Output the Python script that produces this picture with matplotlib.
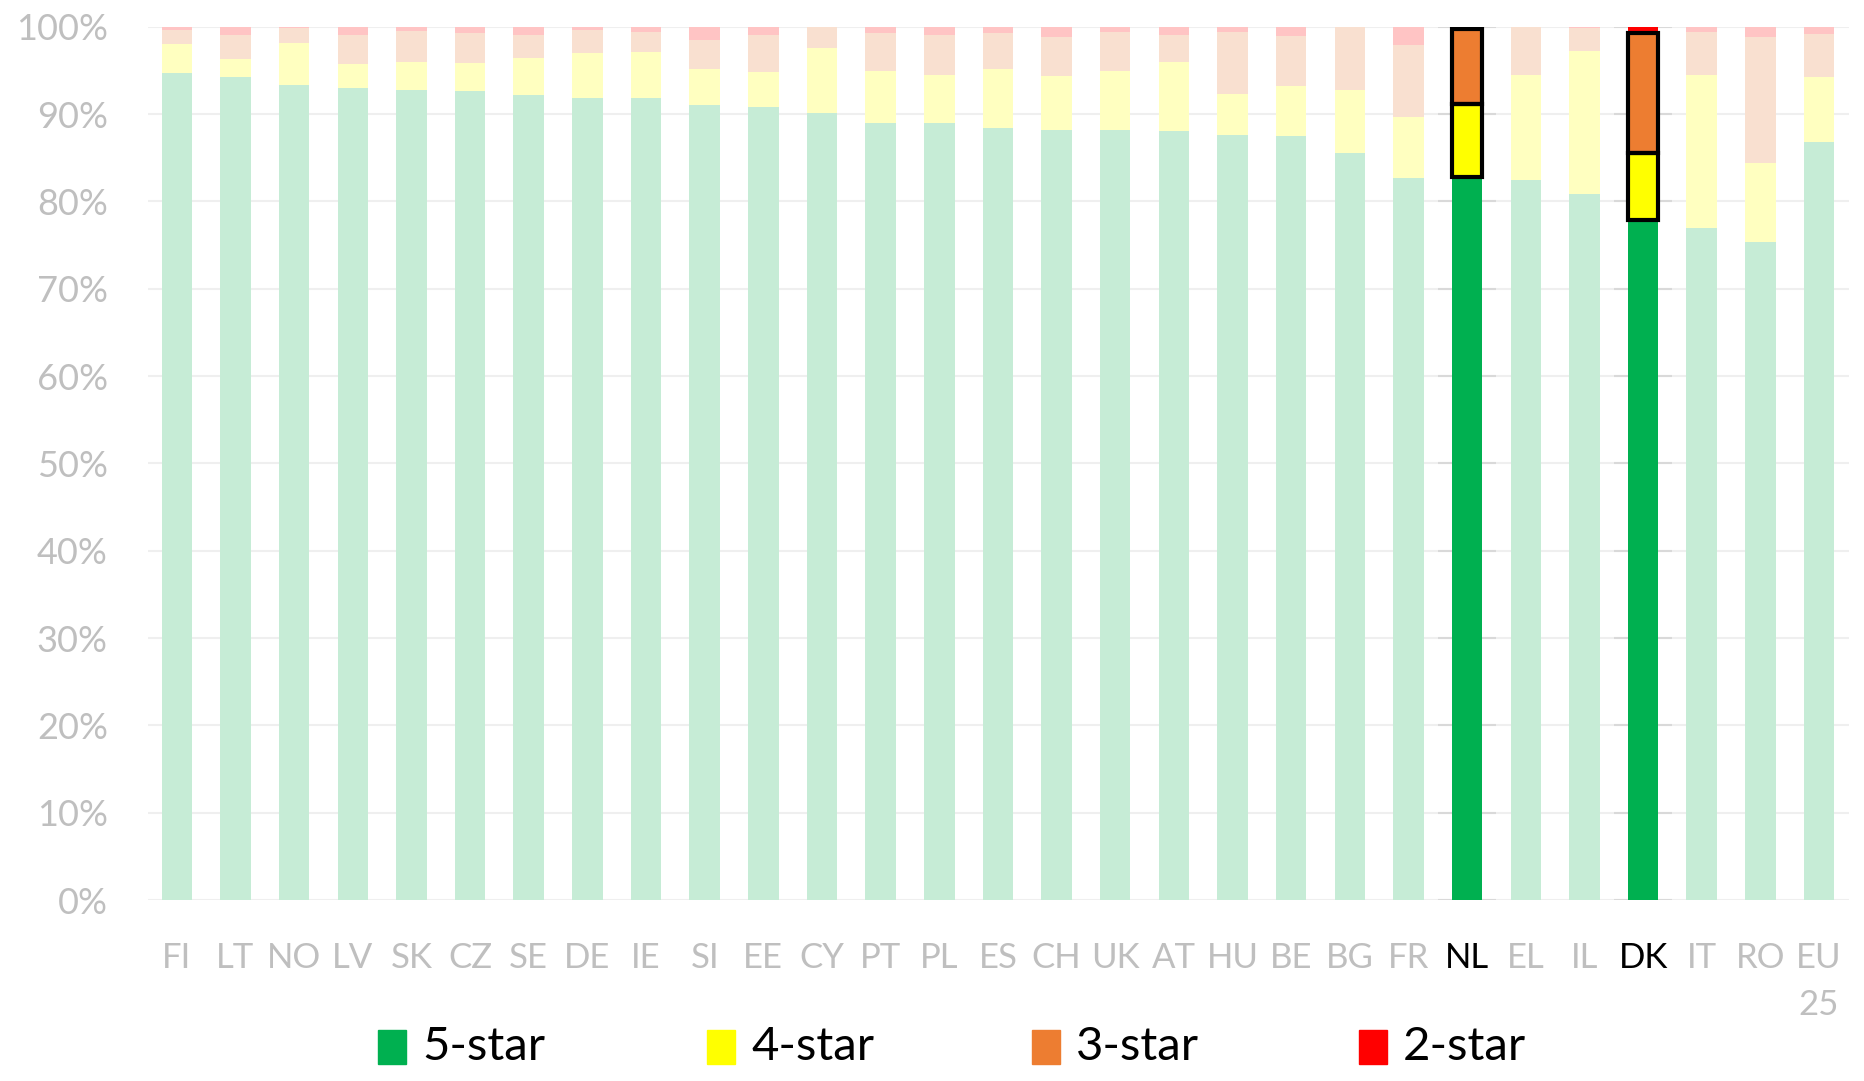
import matplotlib
matplotlib.use("Agg")
import matplotlib.pyplot as plt
from matplotlib.patches import Rectangle
import numpy as np

# %% Data (share of ratings per country, %)
countries = ["FI", "LT", "NO", "LV", "SK", "CZ", "SE", "DE", "IE", "SI", "EE", "CY", "PT", "PL", "ES",
             "CH", "UK", "AT", "HU", "BE", "BG", "FR", "NL", "EL", "IL", "DK", "IT", "RO", "EU\n25"]
five_star = [94.7, 94.2, 93.3, 93.0, 92.8, 92.6, 92.2, 91.8, 91.8, 91.0, 90.8, 90.1, 89.0, 89.0, 88.4,
             88.2, 88.2, 88.1, 87.6, 87.5, 85.5, 82.7, 82.8, 82.4, 80.9, 77.9, 77.0, 75.3, 86.8]
four_star = [3.3, 2.1, 4.8, 2.7, 3.2, 3.2, 4.2, 5.2, 5.3, 4.2, 4.0, 7.5, 5.9, 5.5, 6.8,
             6.2, 6.7, 7.9, 4.7, 5.7, 7.3, 7.0, 8.4, 12.1, 16.3, 7.6, 17.5, 9.1, 7.4]
three_star = [1.6, 2.7, 1.8, 3.3, 3.5, 3.5, 2.6, 2.6, 2.3, 3.3, 4.2, 2.4, 4.4, 4.6, 4.1,
              4.4, 4.5, 3.1, 7.1, 5.7, 7.2, 8.2, 8.5, 5.5, 2.6, 13.8, 4.9, 14.4, 5.0]
two_star = [0.4, 1.0, 0.1, 1.0, 0.5, 0.7, 1.0, 0.4, 0.6, 1.5, 1.0, 0.0, 0.7, 0.9, 0.7,
            1.2, 0.6, 0.9, 0.6, 1.1, 0.0, 2.1, 0.3, 0.0, 0.2, 0.7, 0.6, 1.2, 0.8]
highlight = ["NL", "DK"]

series = [five_star, four_star, three_star, two_star]
labels = ["5-star", "4-star", "3-star", "2-star"]
strong = ["#00B050", "#FFFF00", "#ED7D31", "#FF0000"]
faded = ["#C6ECD6", "#FFFFC0", "#F9E0D0", "#FFC4C4"]

narrow = ["Liberation Sans Narrow", "Lato"]
grey = "#BFBFBF"

# %% Plot
fig = plt.figure(figsize=(18.65, 10.81), dpi=100)
ax = fig.add_axes([0.0794, 0.1674, 0.9120, 0.8079])

x = np.arange(len(countries))
is_hl = np.array([c in highlight for c in countries])
bottom = np.zeros(len(countries))
width = 0.52

for vals, c_strong, c_faded, k in zip(series, strong, faded, range(4)):
    vals = np.array(vals)
    colors = [c_strong if h else c_faded for h in is_hl]
    ax.bar(x, vals, width, bottom=bottom, color=colors, zorder=3, linewidth=0)
    # black outline round the 4-star and 3-star blocks of highlighted countries
    if k in (1, 2):
        ax.bar(x[is_hl], vals[is_hl], width, bottom=bottom[is_hl], fill=False,
               edgecolor="black", linewidth=3, zorder=4)
    bottom += vals

ax.set_xlim(-0.49, len(countries) - 0.49)
ax.set_ylim(0, 100)
ax.set_yticks(np.arange(0, 101, 10))
ax.set_yticklabels([f"{v}%" for v in range(0, 101, 10)])
ax.yaxis.grid(True, color="#EFEFEF", linewidth=1.5, zorder=0)
ax.set_axisbelow(True)

# darker grid pieces behind highlighted columns
for xi in x[is_hl]:
    ax.hlines(np.arange(0, 101, 10), xi - 0.5, xi + 0.5, color="#D9D9D9", linewidth=1.5, zorder=1)

for s in ax.spines.values():
    s.set_visible(False)

ax.tick_params(axis="both", length=0)
ax.tick_params(axis="y", pad=29, labelsize=26, labelcolor=grey)
ax.set_xticks(x)
ax.set_xticklabels(countries, family=narrow, fontsize=25, linespacing=1.6, va="top")
ax.tick_params(axis="x", pad=30)
for lab, h in zip(ax.get_xticklabels(), is_hl):
    lab.set_color("black" if h else grey)
for lab in ax.get_yticklabels():
    lab.set_family("Lato")

# legend, placed by hand (pixel positions in the 1865x1081 figure)
legend_x = [378, 707, 1032, 1359]
for lx, c, name in zip(legend_x, strong, labels):
    fig.patches.append(Rectangle((lx / 1865, (1081 - 1064) / 1081), 28 / 1865, 34 / 1081,
                                 transform=fig.transFigure, color=c))
    fig.text((lx + 44) / 1865, (1081 - 1047) / 1081, name, family=narrow, fontsize=34,
             va="center", ha="left", color="black")

plt.savefig("out.png", dpi=100)
